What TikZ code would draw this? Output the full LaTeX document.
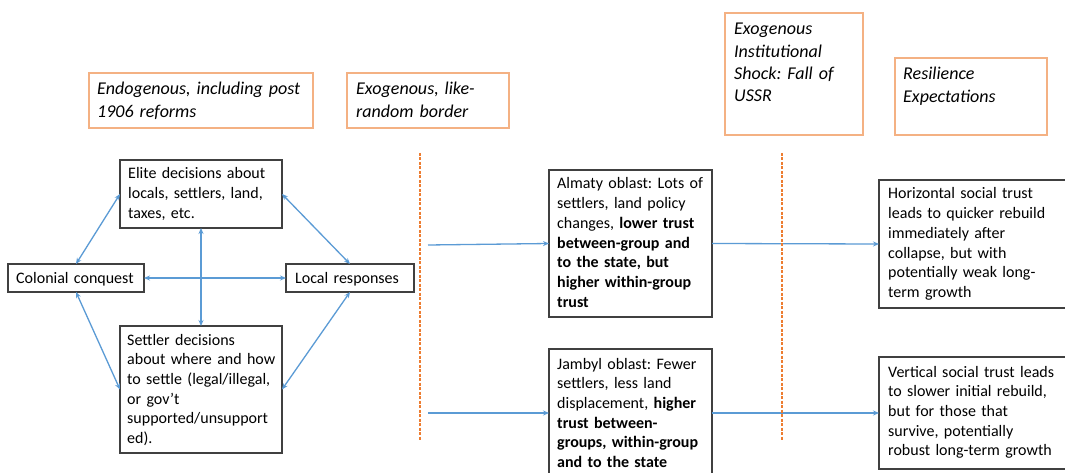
\documentclass[tikz,border=0pt]{standalone}
\usepackage{fontspec}
\setmainfont{Carlito}
\usetikzlibrary{arrows.meta}
\definecolor{arrowblue}{HTML}{5B9BD5}
\definecolor{dashorange}{HTML}{ED7D31}
\definecolor{hdrorange}{HTML}{F4B183}
\definecolor{boxgray}{HTML}{404040}
\frenchspacing
\begin{document}
\begin{tikzpicture}[x=1pt,y=-1pt,
  box/.style={draw=boxgray,line width=1.1pt,inner sep=0pt,outer sep=0pt,anchor=north west},
  hdr/.style={draw=hdrorange,line width=1.2pt,inner sep=0pt,outer sep=0pt,anchor=north west},
  body/.style={anchor=base west,inner sep=0pt,text width=220pt,align=left,font=\fontsize{16}{19.7}\selectfont},
  htxt/.style={anchor=base west,inner sep=0pt,text width=220pt,align=left,font=\fontsize{18}{22.3}\selectfont\itshape},
  link/.style={draw=arrowblue,line width=1.3pt,{Stealth[length=6pt,width=5pt]}-{Stealth[length=6pt,width=5pt]}},
  flow/.style={draw=arrowblue,line width=1.3pt,-{Stealth[length=6pt,width=5pt]}},
  border/.style={draw=dashorange,line width=1.6pt,dash pattern=on 3pt off 1.5pt}]
\useasboundingbox (0,0) rectangle (1065,473);
\clip (0,0) rectangle (1065,473);
\fill[white] (0,0) rectangle (1065,473);

% headers
\node[hdr,minimum width=224pt,minimum height=55pt] (hEndo) at (89,73) {};
\node[htxt] (tEndo) at ([shift={(8,22)}]hEndo.north west) {Endogenous, including post\\1906 reforms};
\node[hdr,minimum width=162pt,minimum height=55pt] (hExo) at (347,73) {};
\node[htxt] (tExo) at ([shift={(9,22)}]hExo.north west) {Exogenous, like-\\random border};
\node[hdr,minimum width=138pt,minimum height=122pt] (hShock) at (725,13) {};
\node[htxt] (tShock) at ([shift={(9,22)}]hShock.north west) {Exogenous\\Institutional\\Shock: Fall of\\USSR};
\node[hdr,minimum width=152pt,minimum height=77pt] (hRes) at (895,58) {};
\node[htxt] (tRes) at ([shift={(8,22)}]hRes.north west) {Resilience\\Expectations};

% boxes
\node[box,minimum width=162pt,minimum height=68pt] (elite) at (120,160) {};
\node[body] (tElite) at ([shift={(8,19)}]elite.north west) {Elite decisions about\\locals, settlers, land,\\taxes, etc.};
\node[box,minimum width=136pt,minimum height=28pt] (colonial) at (8,264) {};
\node[body] (tColonial) at ([shift={(8,5)}]colonial.west) {Colonial conquest};
\node[box,minimum width=128pt,minimum height=28pt] (local) at (286,264) {};
\node[body] (tLocal) at ([shift={(9,5)}]local.west) {Local responses};
\node[box,minimum width=162pt,minimum height=127pt] (settler) at (120,326) {};
\node[body] (tSettler) at ([shift={(7,19)}]settler.north west) {Settler decisions\\about where and how\\to settle (legal/illegal,\\or gov’t\\supported/unsupport\\ed).};
\node[box,minimum width=163pt,minimum height=147pt] (almaty) at (549,170) {};
\node[body] (tAlmaty) at ([shift={(8,19)}]almaty.north west) {Almaty oblast: Lots of\\settlers, land policy\\changes, \textbf{lower trust}\\\textbf{between-group and}\\\textbf{to the state, but}\\\textbf{higher within-group}\\\textbf{trust}};
\node[box,minimum width=163pt,minimum height=128pt] (jambyl) at (549,349) {};
\node[body] (tJambyl) at ([shift={(8,20)}]jambyl.north west) {Jambyl oblast: Fewer\\settlers, less land\\displacement, \textbf{higher}\\\textbf{trust between-}\\\textbf{groups, within-group}\\\textbf{and to the state}};
\node[box,minimum width=191pt,minimum height=128pt] (horiz) at (879,180) {};
\node[body] (tHoriz) at ([shift={(9,19)}]horiz.north west) {Horizontal social trust\\leads to quicker rebuild\\immediately after\\collapse, but with\\potentially weak long-\\term growth};
\node[box,minimum width=191pt,minimum height=112pt] (vert) at (879,357) {};
\node[body] (tVert) at ([shift={(9,20)}]vert.north west) {Vertical social trust leads\\to slower initial rebuild,\\but for those that\\survive, potentially\\robust long-term growth};

% connectors
\draw[link] (colonial.north) -- (elite.west);
\draw[link] (elite.east) -- (local.north);
\draw[link] (colonial.east) -- (local.west);
\draw[link] (elite.south) -- (settler.north);
\draw[link] (colonial.south) -- (settler.west);
\draw[link] (local.south) -- (settler.east);
\coordinate (a1) at (428,245);
\coordinate (a2) at (428,413);
\draw[flow] (a1) -- (almaty.west);
\draw[flow] (a2) -- (jambyl.west);
\draw[flow] (almaty.east) -- (horiz.west);
\draw[flow] (jambyl.east) -- (vert.west);

% borders
\coordinate (d1t) at (420,153);
\coordinate (d1b) at (420,440);
\coordinate (d2t) at (782,153);
\coordinate (d2b) at (782,440);
\draw[border] (d1t) -- (d1b);
\draw[border] (d2t) -- (d2b);
\end{tikzpicture}
\end{document}
